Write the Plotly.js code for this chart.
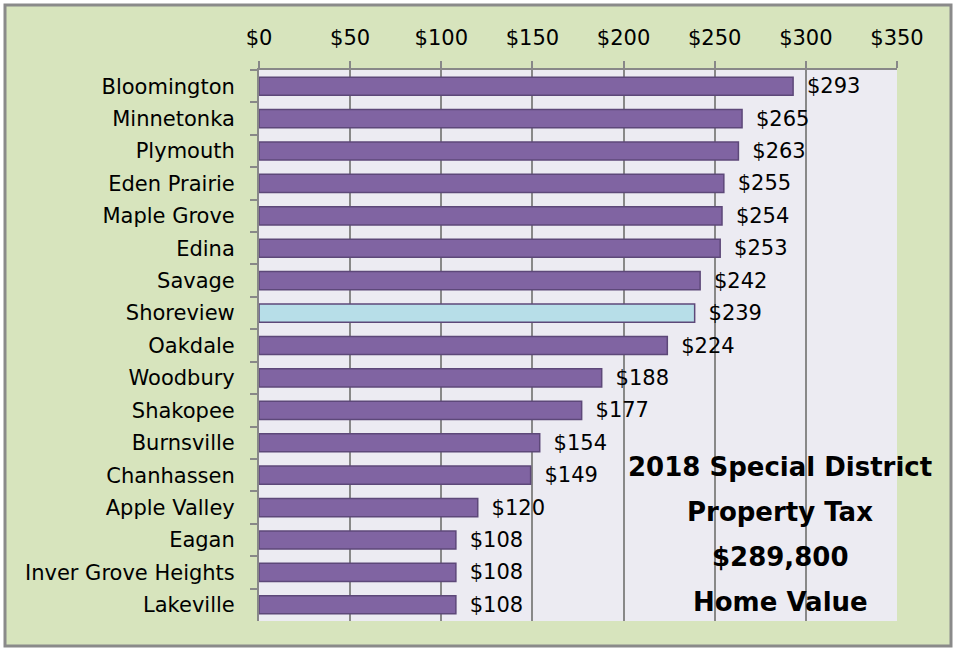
<!DOCTYPE html>
<html>
<head>
<meta charset="utf-8">
<script src="https://cdn.plot.ly/plotly-3.0.1.min.js"></script>
<style>
  html, body { margin: 0; padding: 0; background: #ffffff; }
  #chart { width: 955px; height: 650px; }
</style>
</head>
<body>
<div id="chart"></div>
<script>
const cities = ["Bloomington", "Minnetonka", "Plymouth", "Eden Prairie", "Maple Grove", "Edina", "Savage", "Shoreview", "Oakdale", "Woodbury", "Shakopee", "Burnsville", "Chanhassen", "Apple Valley", "Eagan", "Inver Grove Heights", "Lakeville"];
const taxValues = [293, 265, 263, 255, 254, 253, 242, 239, 224, 188, 177, 154, 149, 120, 108, 108, 108];
const highlightCity = "Shoreview";
const xTickValues = [0, 50, 100, 150, 200, 250, 300, 350];
const xTickLabels = ["$0", "$50", "$100", "$150", "$200", "$250", "$300", "$350"];
const noteLines = ["2018 Special District", "Property Tax", "$289,800", "Home Value"];

const W = 955, H = 650;
const M = { l: 259, r: 58, t: 70, b: 29 };
const pw = W - M.l - M.r, ph = H - M.t - M.b;
const px = v => (v - M.l) / pw;
const py = v => 1 - (v - M.t) / ph;

const font = "'DejaVu Sans', sans-serif";
const purple = "#8064a2", edge = "#5d4879", blue = "#b7dee8";

const trace = {
  type: "bar",
  orientation: "h",
  y: cities,
  x: taxValues,
  width: 0.56,
  marker: {
    color: cities.map(c => c === highlightCity ? blue : purple),
    line: { color: edge, width: 1.5 }
  },
  texttemplate: "\u00a0\u2009$%{x}",
  textposition: "outside",
  constraintext: "none",
  cliponaxis: false,
  textfont: { family: font, size: 21, color: "#000000" },
  hoverinfo: "skip"
};

const annotations = noteLines.map((t, i) => ({
  xref: "paper", yref: "paper",
  x: px(780), y: py(467 + i * 45),
  xanchor: "center", yanchor: "middle",
  text: "<b>" + t + "</b>",
  showarrow: false,
  font: { family: font, size: 26, color: "#000000" }
}));

const layout = {
  width: W, height: H,
  margin: M,
  paper_bgcolor: "#d7e4bd",
  plot_bgcolor: "#ecebf2",
  showlegend: false,
  bargap: 0.44,
  xaxis: {
    side: "top",
    range: [0, 350],
    tickvals: xTickValues,
    ticktext: xTickLabels,
    showgrid: true,
    gridcolor: "#888888",
    gridwidth: 2,
    zeroline: false,
    showline: true,
    linecolor: "#888888",
    linewidth: 2,
    ticks: "outside",
    ticklen: 7,
    tickwidth: 2,
    tickcolor: "#888888",
    ticklabelstandoff: 8,
    tickfont: { family: font, size: 21, color: "#000000" },
    fixedrange: true
  },
  yaxis: {
    autorange: "reversed",
    type: "category",
    showgrid: false,
    zeroline: false,
    showline: true,
    linecolor: "#888888",
    linewidth: 2,
    ticks: "outside",
    tickson: "boundaries",
    ticklen: 7,
    tickwidth: 2,
    tickcolor: "#888888",
    ticklabelstandoff: 18,
    tickfont: { family: font, size: 21, color: "#000000" },
    fixedrange: true
  },
  annotations: annotations,
  shapes: [
    { type: "rect", xref: "paper", yref: "paper", layer: "above",
      x0: px(0), x1: px(W), y0: py(H), y1: py(0),
      line: { color: "#ffffff", width: 8 }, fillcolor: "rgba(0,0,0,0)" },
    { type: "rect", xref: "paper", yref: "paper", layer: "above",
      x0: px(5), x1: px(951), y0: py(646), y1: py(5),
      line: { color: "#8a8a8a", width: 3 }, fillcolor: "rgba(0,0,0,0)" }
  ]
};

Plotly.newPlot("chart", [trace], layout, { displayModeBar: false, staticPlot: true });
</script>
</body>
</html>
